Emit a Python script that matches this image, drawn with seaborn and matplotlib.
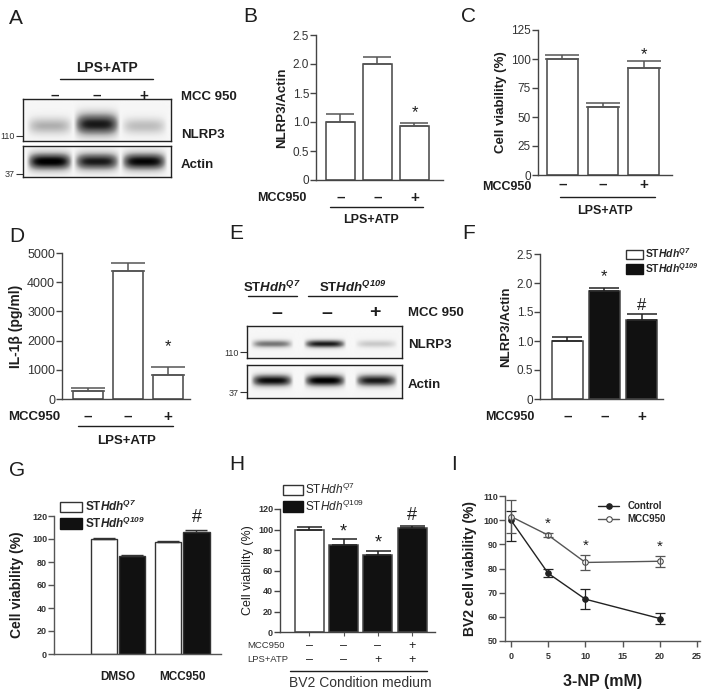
import numpy as np
import pandas as pd
import matplotlib
matplotlib.use("Agg")
import matplotlib.pyplot as plt
import seaborn as sns
from matplotlib.lines import Line2D
from matplotlib.patches import Patch
from matplotlib.transforms import blended_transform_factory

# ---- data ----
# B: NLRP3/Actin (LPS+ATP +/- MCC950)
b_vals = [1.0, 2.0, 0.93]
b_errs = [0.13, 0.12, 0.06]
# C: cell viability (%)
c_vals = [100, 59, 92]
c_errs = [3.5, 3.5, 6]
# D: IL-1b (pg/ml)
d_vals = [270, 4370, 830]
d_errs = [110, 280, 270]
# F: NLRP3/Actin in STHdh cells
f_vals = [1.0, 1.86, 1.36]
f_errs = [0.07, 0.05, 0.11]
# G: viability, DMSO / MCC950 x Q7 / Q109
g_treat = ["DMSO", "DMSO", "MCC950", "MCC950"]
g_cell = ["Q7", "Q109", "Q7", "Q109"]
g_vals = [100, 85, 97.5, 106.5]
g_errs = [1.0, 1.0, 1.0, 1.0]
# H: viability with BV2 condition medium
h_vals = [100, 85, 75, 101.5]
h_errs = [2, 5.5, 4.5, 2]
h_mcc = ["–", "–", "–", "+"]
h_lps = ["–", "–", "+", "+"]
# I: BV2 viability vs 3-NP
i_dose = [0, 5, 10, 20]
i_ctrl = [100, 78, 67.3, 59.3]
i_ctrl_lo = [91.5, 76.3, 63.3, 57.0]
i_ctrl_hi = [103.8, 79.8, 71.5, 61.7]
i_mcc = [101.5, 93.8, 82.5, 83.0]
i_mcc_lo = [94.5, 93.0, 79.5, 80.7]
i_mcc_hi = [108.5, 94.7, 85.5, 85.2]
# blots: band intensity per lane
a_nlrp3 = [0.35, 0.85, 0.3]
a_actin = [0.95, 0.85, 0.92]
e_nlrp3 = [0.55, 0.85, 0.25]
e_actin = [0.9, 0.95, 0.85]
mcc_signs = ["–", "–", "+"]

# ---- fonts ----
sns.set_style("white")
plt.rcParams["font.family"] = ["Liberation Sans", "DejaVu Sans"]
plt.rcParams["mathtext.fontset"] = "custom"
plt.rcParams["mathtext.rm"] = "Liberation Sans"
plt.rcParams["mathtext.it"] = "Liberation Sans:italic"
plt.rcParams["mathtext.bf"] = "Liberation Sans:bold"
plt.rcParams["mathtext.bfit"] = "Liberation Sans:italic:bold"

INK = "#1e1e1e"
W, H = 703, 691
fig = plt.figure(figsize=(W / 100, H / 100), dpi=100)
fig.patch.set_facecolor("white")

def add_ax(x0, y0, x1, y1):
    return fig.add_axes([x0 / W, 1 - y1 / H, (x1 - x0) / W, (y1 - y0) / H])

def ptext(x, y, s, **kw):
    kw.setdefault("color", INK)
    fig.text(x / W, 1 - y / H, s, **kw)

def pline(x0, x1, y, lw=1.0):
    fig.add_artist(Line2D([x0 / W, x1 / W], [1 - y / H, 1 - y / H], color=INK, lw=lw))

def row_text(ax, xs, y, labels, **kw):
    tr = blended_transform_factory(ax.transData, fig.transFigure)
    for x, s in zip(xs, labels):
        ax.text(x, 1 - y / H, s, transform=tr, ha="center", va="center", color=INK, **kw)

def style_axes(ax, spine="#444"):
    sns.despine(ax=ax)
    for s in ("left", "bottom"):
        ax.spines[s].set_color(spine)
        ax.spines[s].set_linewidth(1.0)
    ax.tick_params(axis="y", left=True, direction="out", length=4, width=1, color=spine, pad=1)
    ax.tick_params(axis="x", length=0)
    ax.set_xlabel("")

def bar_panel(box, vals, errs, colors, width, xlim, ylim, yticks, ylabels_,
              ylabel, tickfs, labfs, capsize, ecol="#555", tickweight="normal"):
    ax = add_ax(*box)
    cats = [f"c{i}" for i in range(len(vals))]
    sns.barplot(x=cats, y=vals, hue=cats, palette=colors, legend=False,
                width=width, edgecolor="#444", linewidth=1.1, ax=ax)
    bars = sorted(ax.patches, key=lambda p: p.get_x())
    for p, e in zip(bars, errs):
        cx = p.get_x() + p.get_width() / 2
        top = p.get_height()
        ax.errorbar([cx], [top], yerr=[[0], [e]], fmt="none", ecolor=ecol,
                    elinewidth=1.1, capsize=capsize, capthick=1.1)
    ax.set_xlim(*xlim)
    ax.set_ylim(*ylim)
    ax.set_yticks(yticks)
    ax.set_yticklabels(ylabels_, fontsize=tickfs, fontweight=tickweight, color="#333")
    ax.set_xticks([])
    ax.set_ylabel(ylabel, fontsize=labfs, fontweight="bold", color=INK, labelpad=3)
    style_axes(ax)
    return ax, bars

def mark(ax, bars, idx, sym, off, fs=12):
    for i in idx:
        p = bars[i]
        ax.text(p.get_x() + p.get_width() / 2, p.get_height() + off, sym,
                ha="center", va="bottom", fontsize=fs, color=INK)

def blot(box, lanes, intens, yc, sig, half_w, smear=False):
    ax = add_ax(*box)
    rows, cols = 60, 300
    yy = np.linspace(0, 1, rows)[:, None]
    xx = np.linspace(0, 1, cols)[None, :]
    img = np.full((rows, cols), 0.07)
    for c, a in zip(lanes, intens):
        hx = np.clip(1 - np.abs((xx - c) / half_w) ** 4, 0, 1)
        s = sig * (1.0 + 0.7 * a) if smear else sig
        ycen = yc - (0.08 * a if smear else 0)
        img += a * hx * np.exp(-0.5 * ((yy - ycen) / s) ** 2)
    ax.imshow(np.clip(img, 0, 1), cmap="Greys", vmin=0, vmax=1, extent=[0, 1, 0, 1],
              aspect="auto", interpolation="bilinear")
    ax.set_xlim(0, 1)
    ax.set_ylim(0, 1)
    ax.set_xticks([])
    for s in ax.spines.values():
        s.set_visible(True)
        s.set_color("#222")
        s.set_linewidth(1.0)
    return ax

def marker_tick(ax, yfrac, label):
    ax.set_yticks([yfrac])
    ax.set_yticklabels([label], fontsize=6.5, color="#333")
    ax.tick_params(axis="y", left=True, direction="out", length=5, width=0.8, color="#333", pad=1)

def box_legend(ax, labels, x, y, size, weight="bold", hl=1.7):
    ax.legend(handles=[Patch(facecolor="white", edgecolor="#333"),
                       Patch(facecolor="#111", edgecolor="#111")],
              labels=labels, loc="upper left", bbox_to_anchor=(x / W, 1 - y / H),
              bbox_transform=fig.transFigure, frameon=False, borderpad=0, borderaxespad=0,
              handlelength=hl, handleheight=1.0, handletextpad=0.2, labelspacing=0.1,
              prop={"weight": weight, "size": size})

# ---- panel letters ----
for s, x, y in [("A", 9, 18), ("B", 243, 16), ("C", 461, 16), ("D", 9, 236),
                ("E", 229, 234), ("F", 462, 234), ("G", 9, 470), ("H", 229, 464), ("I", 451, 464)]:
    ptext(x, y, s, fontsize=15, va="center", ha="left")

# ---- A: blot ----
a_lanes = [0.18, 0.5, 0.82]
ax = blot((23, 99, 171, 141), a_lanes, a_nlrp3, 0.67, 0.12, 0.16, smear=True)
marker_tick(ax, 0.12, "110")
ax = blot((23, 146, 171, 177), a_lanes, a_actin, 0.5, 0.2, 0.16)
marker_tick(ax, 0.1, "37")
ptext(107, 68, "LPS+ATP", fontsize=10, fontweight="bold", ha="center", va="center")
pline(60, 153, 79)
for x, s in zip([55, 97, 144], mcc_signs):
    ptext(x, 96, s, fontsize=11, fontweight="bold", ha="center", va="center")
ptext(181, 97, "MCC 950", fontsize=9.5, fontweight="bold", va="center")
ptext(181, 135, "NLRP3", fontsize=9.5, fontweight="bold", va="center")
ptext(181, 165, "Actin", fontsize=9.5, fontweight="bold", va="center")

# ---- B ----
ax, bars = bar_panel((316, 35, 443, 180), b_vals, b_errs, ["white"] * 3, 0.8,
                     (-0.66, 2.77), (0, 2.5), [0, 0.5, 1, 1.5, 2, 2.5],
                     ["0", "0.5", "1.0", "1.5", "2.0", "2.5"], "NLRP3/Actin",
                     8.5, 9.5, 10)
mark(ax, bars, [2], "*", 0.1)
row_text(ax, range(3), 198, mcc_signs, fontsize=11, fontweight="bold")
ptext(257, 198, "MCC950", fontsize=9, fontweight="bold", va="center")
pline(330, 423, 207)
ptext(371, 220, "LPS+ATP", fontsize=9, fontweight="bold", ha="center", va="center")

# ---- C ----
ax, bars = bar_panel((538, 30, 672, 175), c_vals, c_errs, ["white"] * 3, 0.76,
                     (-0.6, 2.7), (0, 125), [0, 25, 50, 75, 100, 125],
                     ["0", "25", "50", "75", "100", "125"], "Cell viability (%)",
                     8.5, 9.5, 12)
mark(ax, bars, [2], "*", 5)
row_text(ax, range(3), 185, mcc_signs, fontsize=11, fontweight="bold")
ptext(482, 187, "MCC950", fontsize=9, fontweight="bold", va="center")
pline(560, 655, 197)
ptext(605, 211, "LPS+ATP", fontsize=9, fontweight="bold", ha="center", va="center")

# ---- D ----
ax, bars = bar_panel((62, 253, 190, 399), d_vals, d_errs, ["white"] * 3, 0.75,
                     (-0.64, 2.56), (0, 5000), [0, 1000, 2000, 3000, 4000, 5000],
                     ["0", "1000", "2000", "3000", "4000", "5000"], "IL-1β (pg/ml)",
                     9, 10, 12)
mark(ax, bars, [2], "*", 700)
row_text(ax, range(3), 417, mcc_signs, fontsize=11, fontweight="bold")
ptext(8, 417, "MCC950", fontsize=9.5, fontweight="bold", va="center")
pline(78, 173, 426)
ptext(127, 441, "LPS+ATP", fontsize=9.5, fontweight="bold", ha="center", va="center")

# ---- E: blot ----
e_lanes = [0.16, 0.5, 0.83]
ax = blot((247, 326, 402, 358), e_lanes, e_nlrp3, 0.56, 0.09, 0.14)
marker_tick(ax, 0.18, "110")
ax = blot((247, 365, 402, 398), e_lanes, e_actin, 0.47, 0.13, 0.14)
marker_tick(ax, 0.18, "37")
ptext(272, 287, r"ST$\mathbfit{Hdh}^{\mathbfit{Q7}}$", fontsize=9.5, fontweight="bold",
      ha="center", va="center")
ptext(353, 287, r"ST$\mathbfit{Hdh}^{\mathbfit{Q109}}$", fontsize=9.5, fontweight="bold",
      ha="center", va="center")
pline(248, 297, 296)
pline(308, 397, 296)
for x, s in zip([277, 327, 375], mcc_signs):
    ptext(x, 313, s, fontsize=14, fontweight="bold", ha="center", va="center")
ptext(408, 313, "MCC 950", fontsize=9.5, fontweight="bold", va="center")
ptext(408, 345, "NLRP3", fontsize=9.5, fontweight="bold", va="center")
ptext(408, 385, "Actin", fontsize=9.5, fontweight="bold", va="center")

# ---- F ----
ax, bars = bar_panel((540, 254, 663, 399), f_vals, f_errs, ["white", "#111", "#111"], 0.84,
                     (-0.74, 2.58), (0, 2.5), [0, 0.5, 1, 1.5, 2, 2.5],
                     ["0", "0.5", "1.0", "1.5", "2.0", "2.5"], "NLRP3/Actin",
                     8.5, 9.5, 11, ecol="#222")
mark(ax, bars, [1], "*", 0.12)
mark(ax, bars, [2], "#", 0.12)
row_text(ax, range(3), 417, mcc_signs, fontsize=11, fontweight="bold")
ptext(485, 417, "MCC950", fontsize=9, fontweight="bold", va="center")
box_legend(ax, [r"ST$\mathbfit{Hdh}^{\mathbfit{Q7}}$", r"ST$\mathbfit{Hdh}^{\mathbfit{Q109}}$"],
           626, 246, 7.5, hl=1.6)

# ---- G ----
ax = add_ax(54, 516, 221, 654)
gdf = pd.DataFrame({"treat": g_treat, "cell": g_cell, "val": g_vals})
sns.barplot(data=gdf, x="treat", y="val", hue="cell", palette=["white", "#111"],
            width=0.88, gap=0.08, edgecolor="#333", linewidth=1.0, legend=False, ax=ax)
bars = sorted(ax.patches, key=lambda p: p.get_x())
for p, e in zip(bars, g_errs):
    ax.errorbar([p.get_x() + p.get_width() / 2], [p.get_height()], yerr=[[0], [e]], fmt="none",
                ecolor="#333", elinewidth=1, capsize=8, capthick=1)
mark(ax, bars, [3], "#", 5, fs=13)
ax.set_xlim(-0.99, 1.6)
ax.set_ylim(0, 120)
ax.set_yticks(range(0, 121, 20))
ax.set_yticklabels([str(v) for v in range(0, 121, 20)], fontsize=6.5, fontweight="bold", color="#333")
ax.set_xticks([0, 1])
ax.set_xticklabels(["DMSO", "MCC950"], fontsize=8.5, fontweight="bold", color=INK)
style_axes(ax, spine="#555")
ax.tick_params(axis="x", pad=12)
ax.set_ylabel("Cell viability (%)", fontsize=10, fontweight="bold", color=INK, labelpad=6)
ax.set_xlabel("")
box_legend(ax, [r"ST$\mathbfit{Hdh}^{\mathbfit{Q7}}$", r"ST$\mathbfit{Hdh}^{\mathbfit{Q109}}$"],
           60, 499, 8.5, hl=1.9)

# ---- H ----
ax, bars = bar_panel((280, 509, 435, 632), h_vals, h_errs, ["white", "#111", "#111", "#111"], 0.85,
                     (-0.86, 3.67), (0, 120), list(range(0, 121, 20)),
                     [str(v) for v in range(0, 121, 20)], "Cell viability (%)",
                     6.5, 9, 9, ecol="#222", tickweight="bold")
ax.yaxis.label.set_fontweight("normal")
ax.set_xticks(range(4))
ax.set_xticklabels([])
ax.tick_params(axis="x", bottom=True, length=3, direction="out", color="#555")
mark(ax, bars, [1, 2], "*", 4, fs=13)
mark(ax, bars, [3], "#", 4, fs=13)
row_text(ax, range(4), 646, h_mcc, fontsize=9)
row_text(ax, range(4), 660, h_lps, fontsize=9)
ptext(247, 646, "MCC950", fontsize=6.8, va="center", color="#333")
ptext(247, 660, "LPS+ATP", fontsize=6.8, va="center", color="#333")
pline(290, 427, 671)
ptext(360, 683, "BV2 Condition medium", fontsize=10, ha="center", va="center", color="#333")
box_legend(ax, [r"ST$\mathit{Hdh}^{\mathit{Q7}}$", r"ST$\mathit{Hdh}^{\mathit{Q109}}$"],
           283, 482, 8.5, weight="normal")

# ---- I ----
ax = add_ax(505, 496, 700, 641)
sns.lineplot(x=i_dose, y=i_ctrl, marker="o", color="#222", markersize=4, markerfacecolor="#222",
             markeredgecolor="#222", lw=1, label="Control", ax=ax)
sns.lineplot(x=i_dose, y=i_mcc, marker="o", color="#555", markersize=4, markerfacecolor="white",
             markeredgecolor="#444", lw=1, label="MCC950", ax=ax)
for y, lo, hi, c in [(i_ctrl, i_ctrl_lo, i_ctrl_hi, "#222"), (i_mcc, i_mcc_lo, i_mcc_hi, "#555")]:
    y = np.array(y)
    ax.errorbar(i_dose, y, yerr=[y - np.array(lo), np.array(hi) - y], fmt="none", ecolor=c,
                elinewidth=0.9, capsize=3.5, capthick=0.9)
for x, hi in zip(i_dose[1:], i_mcc_hi[1:]):
    ax.text(x, hi + 1.0, "*", ha="center", va="bottom", fontsize=11, color=INK)
ax.set_xlim(-0.8, 25.4)
ax.set_ylim(50, 110)
ax.set_xticks(range(0, 26, 5))
ax.set_xticklabels([str(v) for v in range(0, 26, 5)], fontsize=6.5, fontweight="bold", color="#333")
ax.set_yticks(range(50, 111, 10))
ax.set_yticklabels([str(v) for v in range(50, 111, 10)], fontsize=6.5, fontweight="bold", color="#333")
style_axes(ax, spine="#555")
ax.tick_params(axis="x", bottom=True, direction="out", length=4, width=1, color="#555", pad=4)
ax.set_xlabel("3-NP (mM)", fontsize=11.5, fontweight="bold", color=INK, labelpad=9)
ax.set_ylabel("BV2 cell viability (%)", fontsize=10, fontweight="bold", color=INK, labelpad=4)
ax.legend(loc="upper left", bbox_to_anchor=(598 / W, 1 - 501 / H), bbox_transform=fig.transFigure,
          frameon=False, borderpad=0, borderaxespad=0, handlelength=2.2, handletextpad=0.8,
          labelspacing=0.35, prop={"weight": "bold", "size": 7})

fig.savefig("out.png", dpi=100, facecolor="white")
